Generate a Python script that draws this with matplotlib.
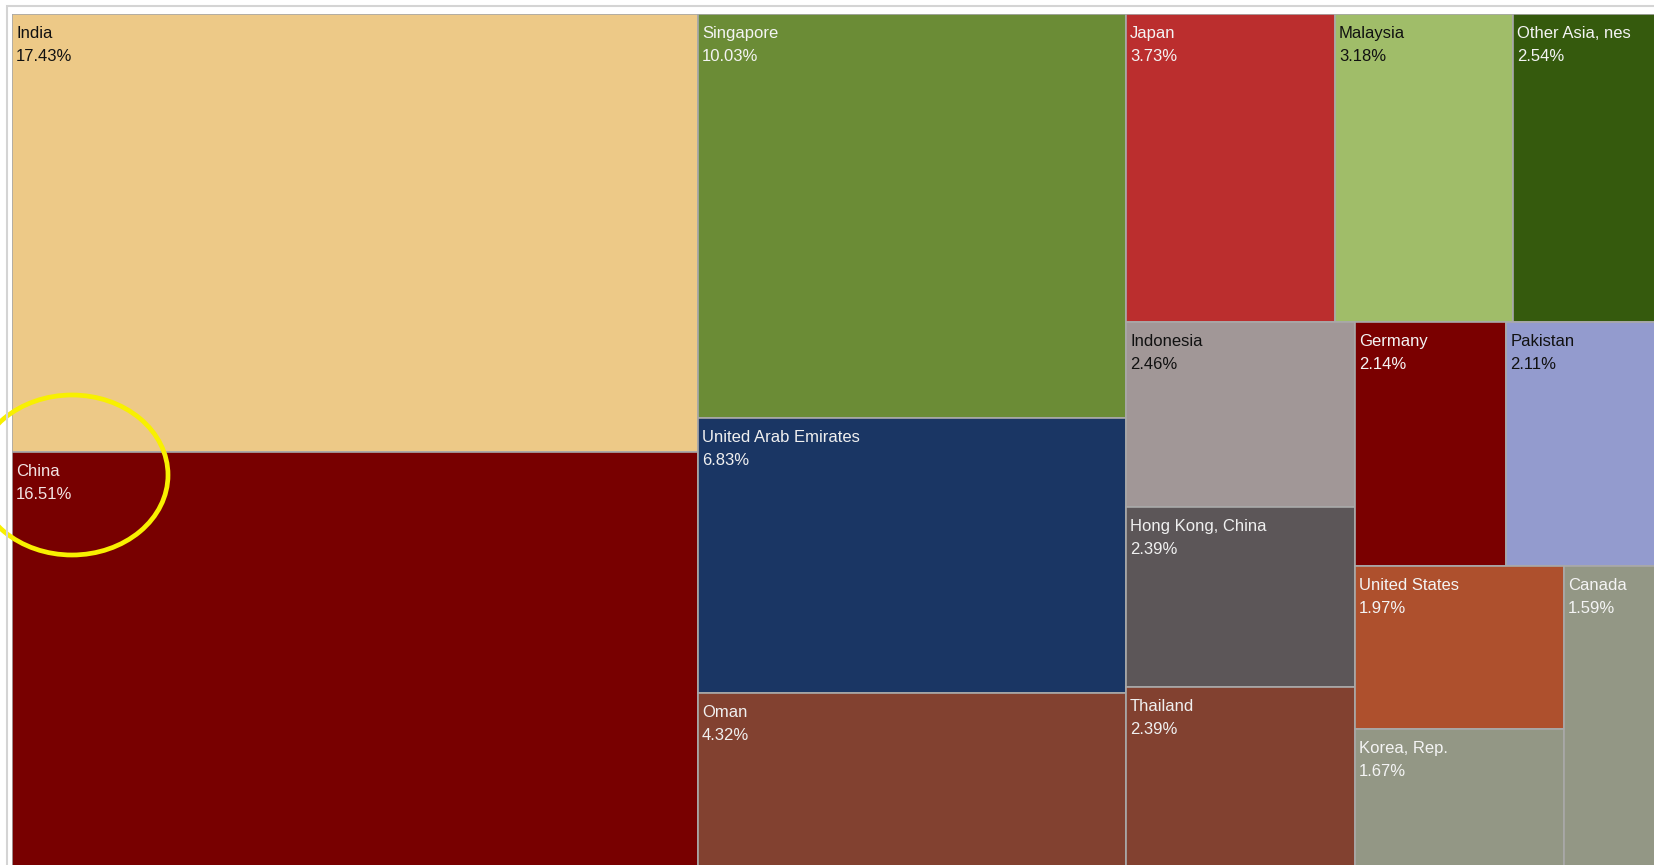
import matplotlib.pyplot as plt
from matplotlib.patches import Rectangle, Ellipse

countries = ["India", "China", "Singapore", "United Arab Emirates", "Oman",
             "Japan", "Malaysia", "Other Asia, nes", "Indonesia",
             "Hong Kong, China", "Thailand", "Germany", "Pakistan",
             "United States", "Korea, Rep.", "Canada"]
shares = [17.43, 16.51, 10.03, 6.83, 4.32, 3.73, 3.18, 2.54, 2.46,
          2.39, 2.39, 2.14, 2.11, 1.97, 1.67, 1.59]
colors = ["#edc987", "#780000", "#6b8c36", "#1a3664", "#824130",
          "#bb2e2e", "#a0bd69", "#355a0d", "#a19797",
          "#5c5658", "#824130", "#7a0000", "#939bce",
          "#ae502d", "#939785", "#939785"]
text_colors = ["#111111", "#f2e4e4", "#f4f4f4", "#f0f0f0", "#f0f0f0",
               "#f4f4f4", "#111111", "#f4f4f4", "#111111",
               "#f0f0f0", "#f0f0f0", "#f4f4f4", "#111111",
               "#f4f4f4", "#f4f4f4", "#f4f4f4"]

# how the blocks are nested (indices into the lists above)
groups = [[0, 1], [2, 3, 4], [[5, 6, 7], [[8, 9, 10], [[11, 12], [[13, 14], 15]]]]]


def total(node):
    if isinstance(node, int):
        return shares[node]
    return sum(total(n) for n in node)


def layout(node, x, y, w, h, horiz, out):
    if isinstance(node, int):
        out.append((node, x, y, w, h))
        return
    s = total(node)
    for child in node:
        f = total(child) / s
        if horiz:
            layout(child, x, y, w * f, h, not horiz, out)
            x += w * f
        else:
            layout(child, x, y, w, h * f, not horiz, out)
            y += h * f


W, H = 1643, 853
fig = plt.figure(figsize=(16.54, 8.65), dpi=100)
fig.patches.append(Rectangle((7 / 1654, -0.02), 1.02, 1.02 - 6 / 865,
                             transform=fig.transFigure, fill=False,
                             edgecolor="#d4d4d4", linewidth=1.5))
ax = fig.add_axes([12 / 1654, -2 / 865, W / 1654, H / 865])
ax.set_xlim(0, W)
ax.set_ylim(H, 0)
ax.axis("off")

cells = []
layout(groups, 0, 0, W, H, True, cells)
for i, x, y, w, h in cells:
    ax.add_patch(Rectangle((x, y), w, h, facecolor=colors[i],
                           edgecolor="#a9a9a9", linewidth=1.2))
    ax.annotate(f"{countries[i]}\n{shares[i]:.2f}%", xy=(x, y),
                xytext=(2.9, -8.6), textcoords="offset points",
                ha="left", va="top", fontsize=12, family="Liberation Sans",
                color=text_colors[i], linespacing=1.68)

# highlight around the China label
ax.add_patch(Ellipse((60, 461), 192, 160, fill=False, edgecolor="#f8f000",
                     linewidth=3.4, clip_on=False))

fig.savefig("out.png", dpi=100)
